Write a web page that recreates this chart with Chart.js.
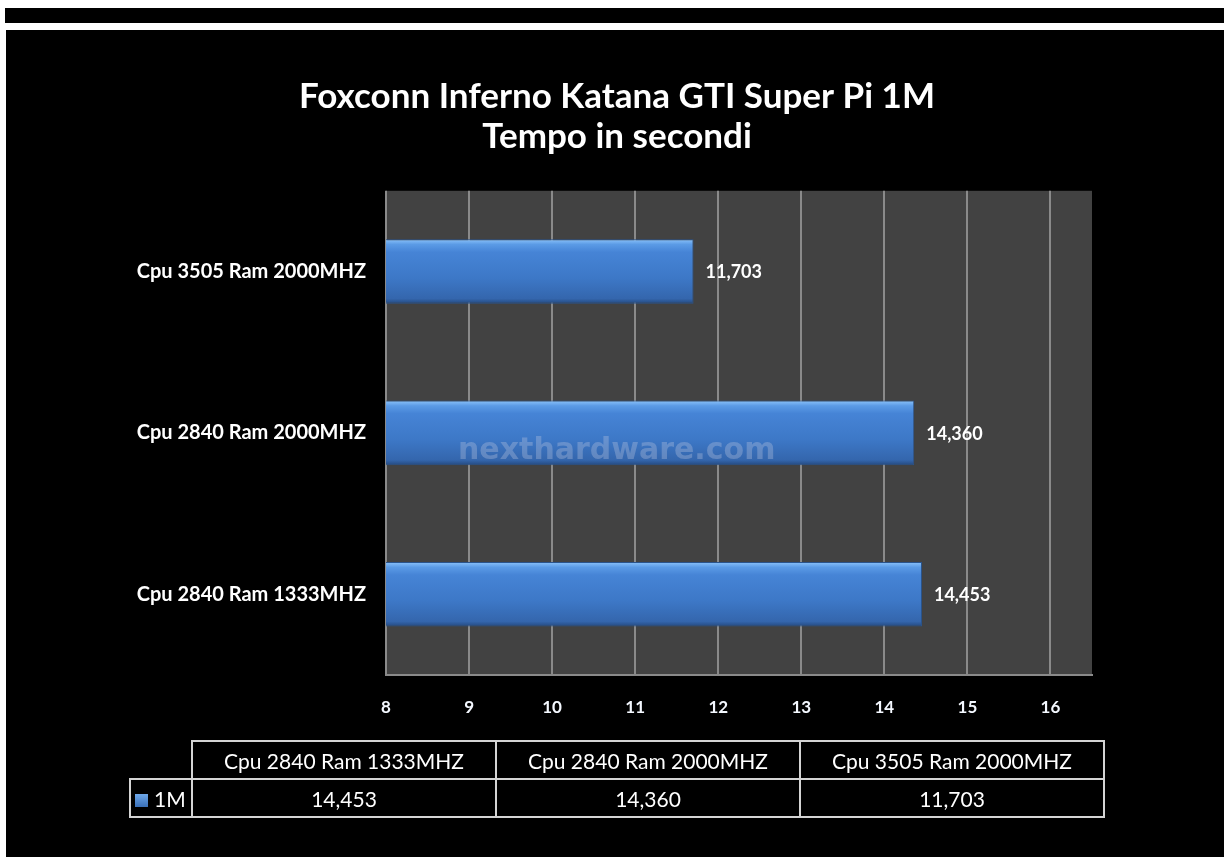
<!DOCTYPE html>
<html>
<head>
<meta charset="utf-8">
<script src="https://cdn.jsdelivr.net/npm/chart.js@4/dist/chart.umd.min.js"></script>
<style>
  body { margin: 0; background: #fff; width: 1224px; height: 857px; position: relative; overflow: hidden; font-family: Lato, sans-serif; }
  #topbar { position: absolute; left: 5px; top: 8px; width: 1219px; height: 15px; background: #000; }
  #panel { position: absolute; left: 6px; top: 30px; width: 1218px; height: 827px; background: #000; }
  #chart { position: absolute; left: 0; top: 0; }
  #watermark { position: absolute; left: 458px; top: 431px; font: bold 30px "DejaVu Sans", sans-serif; color: rgba(190, 200, 225, 0.33); white-space: nowrap; }
  #datatable { position: absolute; left: 129px; top: 740px; border-collapse: collapse; table-layout: fixed; color: #fff; font-size: 21px; }
  #datatable td { border: 2px solid #d4d4d4; text-align: center; padding: 0; }
  #datatable tr.head td { height: 36px; }
  #datatable tr.vals td { height: 36px; }
  #datatable td.blank { border: none; }
  #datatable td.key { text-align: left; padding-left: 4px; white-space: nowrap; }
  .swatch { display: inline-block; width: 13px; height: 13px; margin-right: 6px; vertical-align: 0px; background: linear-gradient(#6ea8ea, #3a70b8); }
</style>
</head>
<body>
<div id="topbar"></div>
<div id="panel">
  <canvas id="chart" width="1218" height="827"></canvas>
</div>
<div id="watermark">nexthardware.com</div>
<table id="datatable"></table>

<script>
// data (table order, Excel draws the bars bottom-up)
const categories = ["Cpu 2840 Ram 1333MHZ", "Cpu 2840 Ram 2000MHZ", "Cpu 3505 Ram 2000MHZ"];
const seriesName = "1M";
const times = [14.453, 14.360, 11.703];
const titleLines = ["Foxconn Inferno Katana GTI Super Pi 1M", "Tempo in secondi"];
const axisMin = 8;
const axisMax = 16.5;

const fmt = (v) => v.toFixed(3).replace(".", ",");

// data table under the chart
function buildTable() {
  const table = document.getElementById("datatable");
  const colgroup = `<colgroup><col style="width:62px">${categories.map(() => '<col style="width:304px">').join("")}</colgroup>`;
  const head = `<tr class="head"><td class="blank"></td>${categories.map((c) => `<td>${c}</td>`).join("")}</tr>`;
  const vals = `<tr class="vals"><td class="key"><span class="swatch"></span>${seriesName}</td>${times.map((v) => `<td>${fmt(v)}</td>`).join("")}</tr>`;
  table.innerHTML = colgroup + head + vals;
}

const plotBackground = {
  id: "plotBackground",
  beforeDraw(chart) {
    const { ctx, chartArea } = chart;
    ctx.save();
    ctx.fillStyle = "#000";
    ctx.fillRect(0, 0, chart.width, chart.height);
    ctx.fillStyle = "#424242";
    ctx.fillRect(chartArea.left, chartArea.top, chartArea.right - chartArea.left, chartArea.bottom - chartArea.top);
    ctx.restore();
  },
};

const valueLabels = {
  id: "valueLabels",
  afterDatasetsDraw(chart) {
    const { ctx } = chart;
    const meta = chart.getDatasetMeta(0);
    ctx.save();
    ctx.font = "bold 18px Lato";
    ctx.fillStyle = "#fff";
    ctx.textAlign = "left";
    ctx.textBaseline = "middle";
    meta.data.forEach((bar, i) => {
      ctx.fillText(fmt(times[i]), bar.x + 12, bar.y + 1);
    });
    ctx.restore();
  },
};

function barFill(context) {
  const chart = context.chart;
  const yScale = chart.scales.y;
  if (!yScale || !chart.chartArea) return "#3f7dcc";
  const center = yScale.getPixelForValue(context.dataIndex);
  const half = (yScale.height / categories.length) * 0.4 / 2;
  const g = chart.ctx.createLinearGradient(0, center - half, 0, center + half);
  g.addColorStop(0, "#8cc3fa");
  g.addColorStop(0.08, "#5b9be6");
  g.addColorStop(0.2, "#4684d6");
  g.addColorStop(0.6, "#3d78c7");
  g.addColorStop(0.92, "#3466ad");
  g.addColorStop(1, "#24497e");
  return g;
}

buildTable();

new Chart(document.getElementById("chart"), {
  type: "bar",
  data: {
    labels: categories,
    datasets: [
      {
        label: seriesName,
        data: times,
        backgroundColor: barFill,
        borderColor: "#2b548c",
        borderWidth: 1,
        categoryPercentage: 1,
        barPercentage: 0.4,
      },
    ],
  },
  options: {
    indexAxis: "y",
    responsive: false,
    animation: false,
    // left/right padding balanced so the title centres on the whole panel
    layout: { padding: { left: 60, right: 56, top: 0, bottom: 142 } },
    plugins: {
      legend: { display: false },
      tooltip: { enabled: false },
      title: {
        display: true,
        text: titleLines,
        color: "#fff",
        font: { family: "Lato", size: 35, weight: "bold", lineHeight: 1.14 },
        padding: { top: 47, bottom: 34 },
      },
    },
    scales: {
      x: {
        type: "linear",
        min: axisMin,
        max: axisMax,
        afterFit: (s) => { s.height = 40; },
        ticks: {
          stepSize: 1,
          includeBounds: false,
          color: "#f4f8ff",
          font: { family: "Lato", size: 17, weight: "bold" },
          padding: 22,
        },
        grid: { color: "#8a8a8a", lineWidth: 2, drawTicks: false },
        border: { display: true, color: "#8a8a8a", width: 2 },
      },
      y: {
        reverse: true,
        afterFit: (s) => { s.width = 320; },
        ticks: {
          color: "#fff",
          font: { family: "Lato", size: 20, weight: "bold" },
          padding: 20,
        },
        grid: { display: false, drawTicks: false },
        border: { display: false },
      },
      // empty spacer on the right, keeps the plot off the panel edge
      yRight: {
        type: "category",
        position: "right",
        afterFit: (s) => { s.width = 76; },
        ticks: { display: false },
        grid: { display: false, drawTicks: false },
        border: { display: false },
      },
    },
  },
  plugins: [plotBackground, valueLabels],
});
</script>
</body>
</html>
